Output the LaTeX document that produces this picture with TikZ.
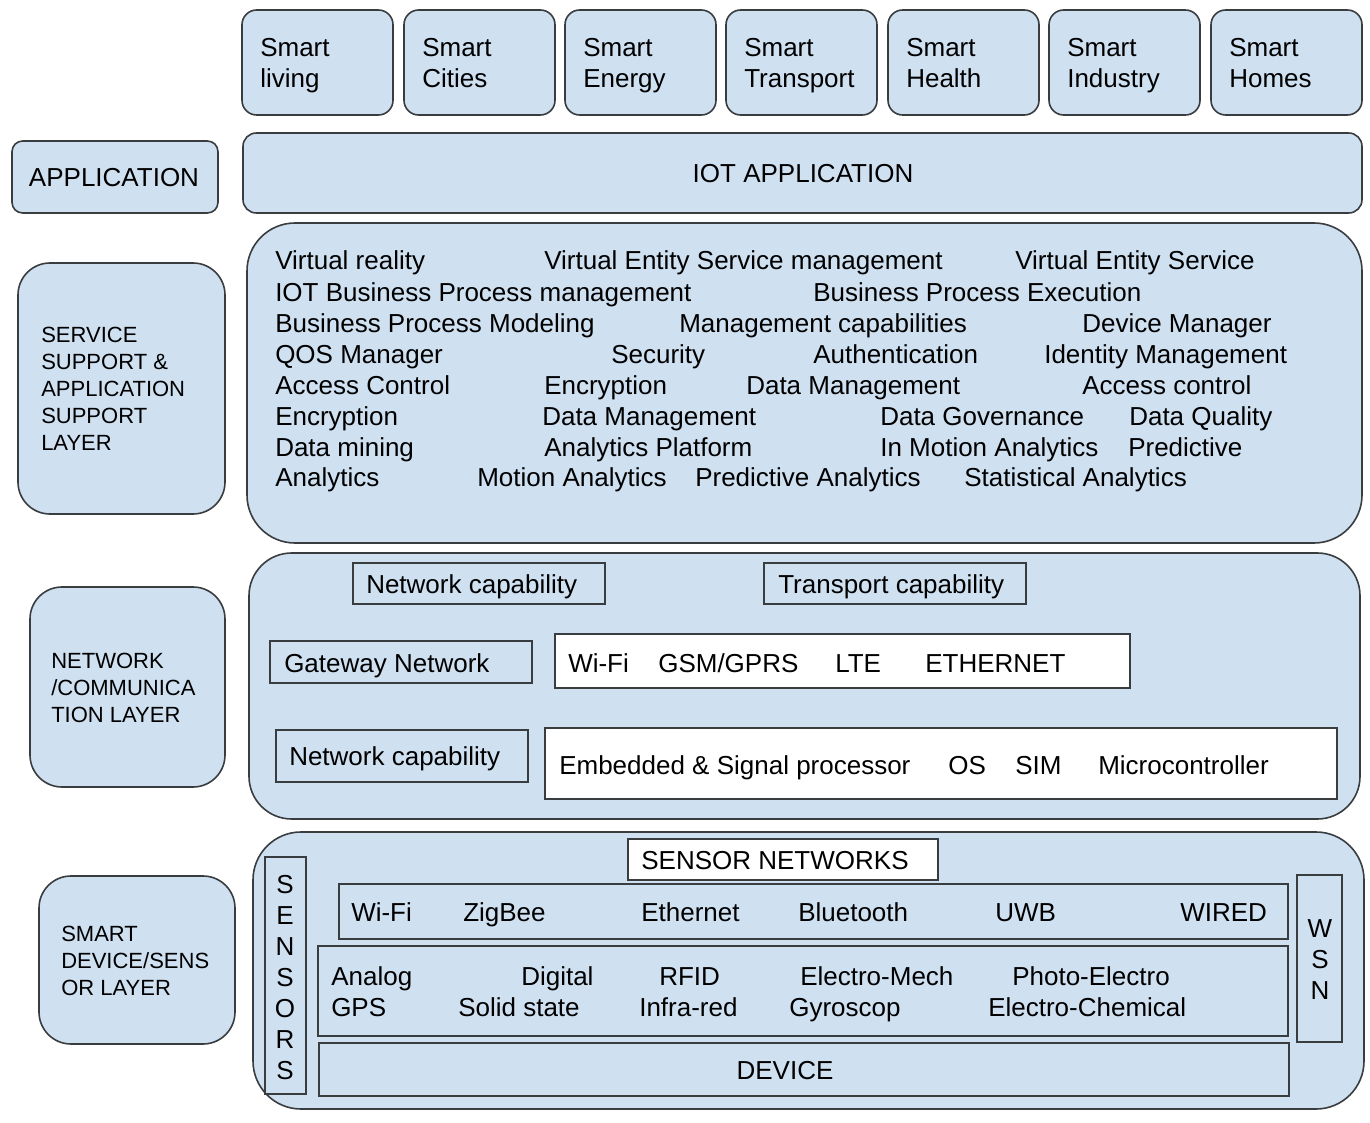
\documentclass[tikz,border=0pt]{standalone}
\usepackage{fontspec}
\setmainfont{Liberation Sans}
\usepackage{xcolor}
\usetikzlibrary{positioning, calc}

\definecolor{boxblue}{HTML}{CFE0F1}
\definecolor{edgegray}{HTML}{3A3D40}

\tikzset{
    layerbox/.style={draw=edgegray, fill=boxblue, line width=1.2pt},
    whitebox/.style={draw=edgegray, fill=white, line width=1.2pt},
    txt/.style={anchor=base west, inner sep=0pt, font=\fontsize{19.5}{23.25}\selectfont},
    ctxt/.style={anchor=base, inner sep=0pt, font=\fontsize{19.5}{23.25}\selectfont},
    mtxt/.style={anchor=north west, inner sep=0pt, align=left, font=\fontsize{19.5}{23.25}\selectfont},
    lbl/.style={anchor=north west, inner sep=0pt, align=left, font=\fontsize{16.5}{20.25}\selectfont},
    vtxt/.style={anchor=north, inner sep=0pt, align=center, font=\fontsize{19.5}{23.25}\selectfont}
}

\begin{document}
\begin{tikzpicture}[x=0.75pt, y=-0.75pt] % one unit = one pixel of the reference
    \useasboundingbox (0,0) rectangle (1370,1123);

    % Smart application boxes
    \draw[layerbox, rounded corners=11pt] (242,10) rectangle (393,115);
    \node[mtxt] (living) at (260,38) {Smart\\living};
    \draw[layerbox, rounded corners=11pt] (404,10) rectangle (555,115);
    \node[mtxt] (cities) at (422,38) {Smart\\Cities};
    \draw[layerbox, rounded corners=11pt] (565,10) rectangle (716,115);
    \node[mtxt] (energy) at (583,38) {Smart\\Energy};
    \draw[layerbox, rounded corners=11pt] (726,10) rectangle (877,115);
    \node[mtxt] (transport) at (744,38) {Smart\\Transport};
    \draw[layerbox, rounded corners=11pt] (888,10) rectangle (1039,115);
    \node[mtxt] (health) at (906,38) {Smart\\Health};
    \draw[layerbox, rounded corners=11pt] (1049,10) rectangle (1200,115);
    \node[mtxt] (industry) at (1067,38) {Smart\\Industry};
    \draw[layerbox, rounded corners=11pt] (1211,10) rectangle (1362,115);
    \node[mtxt] (homes) at (1229,38) {Smart\\Homes};

    % Application layer
    \draw[layerbox, rounded corners=8pt] (12,141) rectangle (218,213);
    \node[ctxt] (applbl) at (114,187) {APPLICATION};
    \draw[layerbox, rounded corners=10pt] (243,133) rectangle (1362,213);
    \node[ctxt] (iotapp) at (803,183) {IOT APPLICATION};

    % Service support layer
    \draw[layerbox, rounded corners=24pt] (18,263) rectangle (225,514);
    \node[lbl] (svclbl) at (41,327) {SERVICE\\SUPPORT \&\\APPLICATION\\SUPPORT\\LAYER};
    \draw[layerbox, rounded corners=36pt] (247,223) rectangle (1362,543);
    \node[txt] (vr) at (275,270) {Virtual reality};
    \node[txt] (vesm) at (544,270) {Virtual Entity Service management};
    \node[txt] (ves) at (1015,270) {Virtual Entity Service};
    \node[txt] (iotbpm) at (275,301) {IOT Business Process management};
    \node[txt] (bpe) at (813,301) {Business Process Execution};
    \node[txt] (bpmod) at (275,332) {Business Process Modeling};
    \node[txt] (mgmtcap) at (679,332) {Management capabilities};
    \node[txt] (devmgr) at (1082,332) {Device Manager};
    \node[txt] (qos) at (275,363) {QOS Manager};
    \node[txt] (security) at (611,363) {Security};
    \node[txt] (auth) at (813,363) {Authentication};
    \node[txt] (idmgmt) at (1044,363) {Identity Management};
    \node[txt] (access) at (275,394) {Access Control};
    \node[txt] (encr) at (544,394) {Encryption};
    \node[txt] (datamgmt) at (746,394) {Data Management};
    \node[txt] (accessb) at (1082,394) {Access control};
    \node[txt] (encrb) at (275,425) {Encryption};
    \node[txt] (datamgmtb) at (542,425) {Data Management};
    \node[txt] (datagov) at (880,425) {Data Governance};
    \node[txt] (dataqual) at (1129,425) {Data Quality};
    \node[txt] (mining) at (275,456) {Data mining};
    \node[txt] (anplat) at (544,456) {Analytics Platform};
    \node[txt] (inmotion) at (880,456) {In Motion Analytics};
    \node[txt] (predictive) at (1128,456) {Predictive};
    \node[txt] (analytics) at (275,486) {Analytics};
    \node[txt] (motion) at (477,486) {Motion Analytics};
    \node[txt] (predan) at (695,486) {Predictive Analytics};
    \node[txt] (statan) at (964,486) {Statistical Analytics};

    % Network / communication layer
    \draw[layerbox, rounded corners=24pt] (30,587) rectangle (225,787);
    \node[lbl] (netlbl) at (51,653) {NETWORK\\/COMMUNICA\\TION LAYER};
    \draw[layerbox, rounded corners=32pt] (249,553) rectangle (1360,819);
    \draw[layerbox] (353,563) rectangle (605,604);
    \node[txt] (netcap) at (366,593) {Network capability};
    \draw[layerbox] (764,563) rectangle (1026,604);
    \node[txt] (transcap) at (778,593) {Transport capability};
    \draw[layerbox] (270,641) rectangle (532,683);
    \node[txt] (gateway) at (284,672) {Gateway Network};
    \draw[whitebox] (555,634) rectangle (1130,688);
    \node[txt] (wifi) at (568,672) {Wi-Fi};
    \node[txt] (gsm) at (658,672) {GSM/GPRS};
    \node[txt] (lte) at (835,672) {LTE};
    \node[txt] (ether) at (925,672) {ETHERNET};
    \draw[layerbox] (276,730) rectangle (528,782);
    \node[txt] (netcapb) at (289,765) {Network capability};
    \draw[whitebox] (545,728) rectangle (1337,799);
    \node[txt] (embedded) at (559,774) {Embedded \& Signal processor};
    \node[txt] (os) at (948,774) {OS};
    \node[txt] (sim) at (1015,774) {SIM};
    \node[txt] (micro) at (1098,774) {Microcontroller};

    % Smart device / sensor layer
    \draw[layerbox, rounded corners=24pt] (39,876) rectangle (235,1044);
    \node[lbl] (devlbl) at (61,926) {SMART\\DEVICE/SENS\\OR LAYER};
    \draw[layerbox, rounded corners=36pt] (253,832) rectangle (1364,1109);
    \draw[layerbox] (265,857) rectangle (306,1094);
    \node[vtxt] (sensors) at (285,875) {S\\E\\N\\S\\O\\R\\S};
    \draw[whitebox] (628,839) rectangle (938,880);
    \node[ctxt] (sensnet) at (775,869) {SENSOR NETWORKS};
    \draw[layerbox] (339,884) rectangle (1288,939);
    \node[txt] (swifi) at (351,921) {Wi-Fi};
    \node[txt] (zigbee) at (463,921) {ZigBee};
    \node[txt] (sether) at (641,921) {Ethernet};
    \node[txt] (bluetooth) at (798,921) {Bluetooth};
    \node[txt] (uwb) at (995,921) {UWB};
    \node[txt] (wired) at (1180,921) {WIRED};
    \draw[layerbox] (318,946) rectangle (1288,1036);
    \node[txt] (analog) at (331,985) {Analog};
    \node[txt] (digital) at (521,985) {Digital};
    \node[txt] (rfid) at (659,985) {RFID};
    \node[txt] (elmech) at (800,985) {Electro-Mech};
    \node[txt] (photo) at (1012,985) {Photo-Electro};
    \node[txt] (gps) at (331,1016) {GPS};
    \node[txt] (solid) at (458,1016) {Solid state};
    \node[txt] (infra) at (639,1016) {Infra-red};
    \node[txt] (gyro) at (789,1016) {Gyroscop};
    \node[txt] (elchem) at (988,1016) {Electro-Chemical};
    \draw[layerbox] (319,1043) rectangle (1289,1096);
    \node[ctxt] (device) at (785,1079) {DEVICE};
    \draw[layerbox] (1297,875) rectangle (1342,1042);
    \node[vtxt] (wsn) at (1320,919) {W\\S\\N};
\end{tikzpicture}
\end{document}
